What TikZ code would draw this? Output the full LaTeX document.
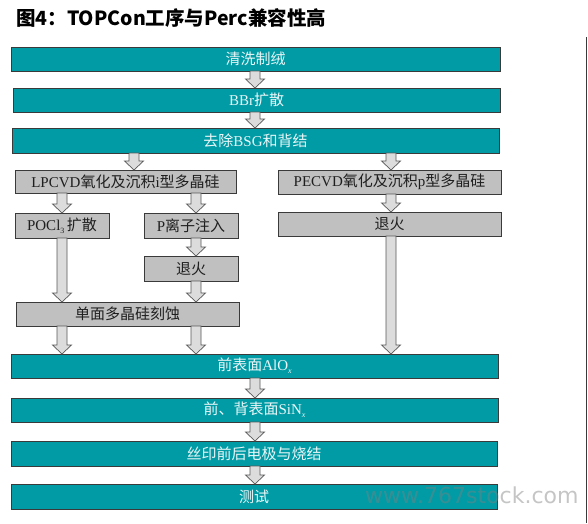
\documentclass[tikz,border=0pt]{standalone}
\usepackage{fontspec}
\setmainfont{Liberation Serif}
\newfontfamily\cjk{Noto Sans CJK SC}
\newfontfamily\wmfont{DejaVu Sans}
\usetikzlibrary{calc}
\definecolor{tealbox}{RGB}{0,155,165}
\definecolor{graybox}{RGB}{192,192,193}
\definecolor{arrfill}{RGB}{220,220,220}
\definecolor{edge}{RGB}{58,58,58}
\newcommand\mybox[7]{\node[#1,minimum width={(#5-#3)*1pt},minimum height={(#6-#4)*1pt}] (#2) at (#3,#4) {#7};}
\newcommand\barrow[3]{\draw[barr] let \p1=(#2.south), \p2=(#3.north) in
  (#1pt-5pt,\y1) -- (#1pt-5pt,\y2+9pt) -- (#1pt-9.5pt,\y2+9pt) -- (#1pt,\y2)
  -- (#1pt+9.5pt,\y2+9pt) -- (#1pt+5pt,\y2+9pt) -- (#1pt+5pt,\y1) -- cycle;}
\newcommand\subx{\raisebox{-3pt}{\fontsize{8}{8}\selectfont\itshape x}}
\begin{document}
\begin{tikzpicture}[x=1pt,y=-1pt,
  box/.style={anchor=north west,inner sep=0pt,outer sep=0pt,draw=edge,line width=0.9pt,
    font=\fontsize{15}{17}\selectfont},
  tbox/.style={box,fill=tealbox,text=white!92!tealbox},
  gbox/.style={box,fill=graybox,text=black!88},
  barr/.style={draw=edge!85,fill=arrfill,line width=0.7pt,line join=miter}]
\useasboundingbox[fill=white] (0,0) rectangle (588,523);
\node[anchor=north west,inner sep=0pt,font=\cjk\bfseries\fontsize{19.5}{21}\selectfont] (title) at (16,8) {图4：TOPCon工序与Perc兼容性高};
\draw[edge,line width=1pt] (586.5,37) -- (586.5,523);
% teal boxes
\mybox{tbox}{t1}{11}{47}{500}{71}{\cjk 清洗制绒}
\mybox{tbox}{t2}{13}{88}{500}{112}{BBr{\cjk 扩散}}
\mybox{tbox}{t3}{12}{128}{499}{153}{{\cjk 去除}BSG{\cjk 和背结}}
\mybox{tbox}{t4}{11}{354}{498}{378}{{\cjk 前表面}AlO\subx}
\mybox{tbox}{t5}{11}{398}{498}{422}{{\cjk 前、背表面}SiN\subx}
\mybox{tbox}{t6}{11}{441}{497}{466}{\cjk 丝印前后电极与烧结}
\mybox{tbox}{t7}{11}{484}{497}{509}{\cjk 测试}
% gray boxes
\mybox{gbox}{g1}{15}{170}{236}{193}{LPCVD{\cjk 氧化及沉积}i{\cjk 型多晶硅}}
\mybox{gbox}{g2}{278}{170}{501}{194}{PECVD{\cjk 氧化及沉积}p{\cjk 型多晶硅}}
\mybox{gbox}{g3}{15}{213}{109}{238}{POCl\raisebox{-3pt}{\fontsize{8}{8}\selectfont 3}\,{\cjk 扩散}}
\mybox{gbox}{g4}{144}{213}{238}{238}{P{\cjk 离子注入}}
\mybox{gbox}{g5}{144}{256}{238}{281}{\cjk 退火}
\mybox{gbox}{g6}{278}{212}{501}{236}{\cjk 退火}
\mybox{gbox}{g7}{16}{302}{239}{326}{\cjk 单面多晶硅刻蚀}
% block arrows
\barrow{255}{t1}{t2}
\barrow{255}{t2}{t3}
\barrow{134}{t3}{g1}
\barrow{391}{t3}{g2}
\barrow{62}{g1}{g3}
\barrow{196}{g1}{g4}
\barrow{391}{g2}{g6}
\barrow{62}{g3}{g7}
\barrow{196}{g4}{g5}
\barrow{196}{g5}{g7}
\barrow{62}{g7}{t4}
\barrow{196}{g7}{t4}
\barrow{391}{g6}{t4}
\barrow{255}{t4}{t5}
\barrow{255}{t5}{t6}
\barrow{255}{t6}{t7}
% watermark
\node[anchor=base west,inner sep=0pt,text=gray,opacity=0.45,font=\wmfont\fontsize{22}{22}\selectfont] (wm) at (365,503) {www.767stock.com};
\end{tikzpicture}
\end{document}
